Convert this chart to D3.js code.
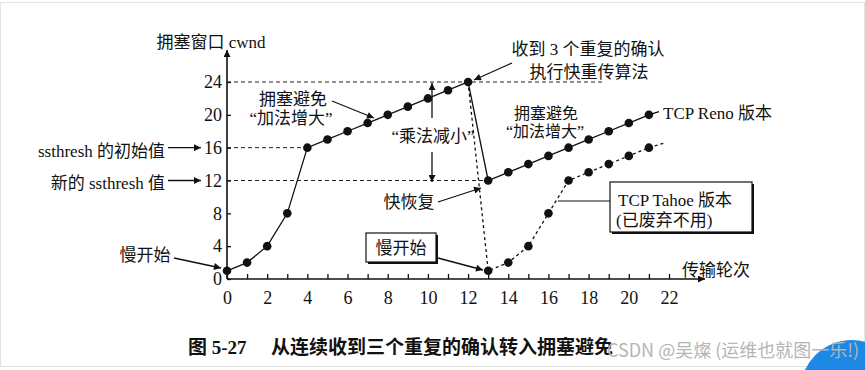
<!DOCTYPE html>
<html>
<head>
<meta charset="utf-8">
<script src="https://cdn.jsdelivr.net/npm/d3@7"></script>
<style>
body { margin: 0; background: #fff; }
text { font-family: "Liberation Serif", "Noto Sans CJK SC", serif; fill: #111; }
</style>
</head>
<body>
<svg width="865" height="370"></svg>
<script>
// TCP Reno: slow start, congestion avoidance, then fast recovery after 3 dup acks
var renoX = [0,1,2,3,4,5,6,7,8,9,10,11,12,13,14,15,16,17,18,19,20,21];
var renoY = [1,2,4,8,16,17,18,19,20,21,22,23,24,12,13,14,15,16,17,18,19,20];
// TCP Tahoe: back to slow start at round 13
var tahoeX = [13,14,15,16,17,18,19,20,21];
var tahoeY = [1,2,4,8,12,13,14,15,16];
var xTicks = [0,1,2,3,4,5,6,7,8,9,10,11,12,13,14,15,16,17,18,19,20,21,22];
var yTicks = [0,4,8,12,16,20,24];
var thresholds = [16, 12];

var svg = d3.select("svg");
var x = d3.scaleLinear().domain([0, 22]).range([227, 669]);
var y = d3.scaleLinear().domain([0, 24]).range([279, 82]);

// frame
svg.append("rect").attr("x", 0.5).attr("y", 2.5).attr("width", 864).attr("height", 364)
   .attr("fill", "none").attr("stroke", "#e2e2e2");

var defs = svg.append("defs");
defs.append("marker").attr("id", "arr").attr("viewBox", "0 0 10 10")
    .attr("refX", 10).attr("refY", 5).attr("markerWidth", 9).attr("markerHeight", 7)
    .attr("markerUnits", "userSpaceOnUse").attr("orient", "auto")
    .append("path").attr("d", "M0,0 L10,5 L0,10 z").attr("fill", "#111");

function arrow(x1, y1, x2, y2, w){
    return svg.append("line").attr("x1", x1).attr("y1", y1).attr("x2", x2).attr("y2", y2)
        .attr("stroke", "#111").attr("stroke-width", w || 1.3).attr("marker-end", "url(#arr)");
}
function label(t, px, py, size, anchor){
    return svg.append("text").attr("x", px).attr("y", py).attr("font-size", size || 17)
        .attr("text-anchor", anchor || "middle").text(t);
}

// dashed guide lines
var dash = "4,3";
svg.append("line").attr("x1", x(0)).attr("x2", 602).attr("y1", y(24)).attr("y2", y(24))
   .attr("stroke", "#222").attr("stroke-dasharray", dash);
svg.append("line").attr("x1", x(0)).attr("x2", x(4)).attr("y1", y(16)).attr("y2", y(16))
   .attr("stroke", "#222").attr("stroke-dasharray", dash);
svg.append("line").attr("x1", x(0)).attr("x2", x(13)).attr("y1", y(12)).attr("y2", y(12))
   .attr("stroke", "#222").attr("stroke-dasharray", dash);

// axes
var xAxis = d3.axisBottom(x).tickValues(xTicks).tickSizeInner(-5).tickSizeOuter(0).tickPadding(12)
    .tickFormat(function(d){ return d % 2 ? "" : d; });
var gx = svg.append("g").attr("transform", "translate(0," + y(0) + ")").call(xAxis);
gx.select(".domain").remove();
gx.selectAll("line").attr("stroke", "#111").attr("stroke-width", 1.3);
gx.selectAll("text").attr("font-size", 18).attr("font-family", "Liberation Serif").attr("fill", "#111");

var yAxis = d3.axisLeft(y).tickValues(yTicks).tickSizeInner(-4).tickSizeOuter(0).tickPadding(5);
var gy = svg.append("g").attr("transform", "translate(" + x(0) + ",0)").call(yAxis);
gy.select(".domain").remove();
gy.selectAll("line").attr("stroke", "#111").attr("stroke-width", 1.3);
gy.selectAll("text").attr("font-size", 18).attr("font-family", "Liberation Serif").attr("fill", "#111");

arrow(x(0), y(0), 705, y(0), 1.6);
arrow(x(0), y(0), x(0), 50, 1.6);
label("拥塞窗口 cwnd", 211, 48, 17);
label("传输轮次", 716, 276, 17);

// Reno curve
var line = d3.line().x(function(d){ return x(d[0]); }).y(function(d){ return y(d[1]); });
var reno = renoX.map(function(v, i){ return [v, renoY[i]]; });
var tahoe = [reno[12]].concat(tahoeX.map(function(v, i){ return [v, tahoeY[i]]; }));
svg.append("path").attr("d", line(reno)).attr("fill", "none").attr("stroke", "#111").attr("stroke-width", 1.3);
svg.append("path").attr("d", line([reno[21], [21.5, 20.4]])).attr("fill", "none").attr("stroke", "#111").attr("stroke-width", 1.3);
svg.append("path").attr("d", line(tahoe)).attr("fill", "none").attr("stroke", "#111")
   .attr("stroke-width", 1.3).attr("stroke-dasharray", "3,3");
svg.append("path").attr("d", line([tahoe[9], [21.8, 16.6]])).attr("fill", "none").attr("stroke", "#111")
   .attr("stroke-width", 1.3).attr("stroke-dasharray", "3,3");

svg.selectAll(".reno-pt").data(reno).enter().append("circle").attr("class", "reno-pt")
   .attr("cx", function(d){ return x(d[0]); }).attr("cy", function(d){ return y(d[1]); })
   .attr("r", 4.3).attr("fill", "#111");
svg.selectAll(".tahoe-pt").data(tahoe.slice(1)).enter().append("circle").attr("class", "tahoe-pt")
   .attr("cx", function(d){ return x(d[0]); }).attr("cy", function(d){ return y(d[1]); })
   .attr("r", 4.3).attr("fill", "#111");

// left side labels
label("ssthresh 的初始值", 165, 157, 17, "end");
label("新的 ssthresh 值", 165, 189, 17, "end");
arrow(168, y(thresholds[0]), 201, y(thresholds[0]));
arrow(168, y(thresholds[1]), 201, y(thresholds[1]));
label("慢开始", 145, 261, 17);
arrow(174, 258, 221, 268);

// annotations
label("拥塞避免", 293, 105, 17);
label("\u201c加法增大\u201d", 291, 124, 17);
arrow(332, 101, 374, 118);

label("收到 3 个重复的确认", 588, 55, 17);
label("执行快重传算法", 589, 78, 17);
arrow(512, 63, 474, 80);

label("\u201c乘法减小\u201d", 433, 142, 17);
arrow(432, 118, 432, 83);
arrow(432, 152, 432, 182);

label("拥塞避免", 546, 119, 16);
label("\u201c加法增大\u201d", 545, 137, 16);

label("快恢复", 409, 208, 17);
arrow(438, 202, 481, 188);

svg.append("rect").attr("x", 368).attr("y", 235).attr("width", 70).attr("height", 29).attr("fill", "#111");
svg.append("rect").attr("x", 366).attr("y", 233).attr("width", 70).attr("height", 29)
   .attr("fill", "#fff").attr("stroke", "#111").attr("stroke-width", 1.2);
label("慢开始", 401, 254, 17);
arrow(438, 258, 483, 270);

label("TCP Reno 版本", 663, 119, 17, "start");

svg.append("line").attr("x1", 558).attr("y1", 201).attr("x2", 610).attr("y2", 201)
   .attr("stroke", "#111").attr("stroke-width", 1.2);
svg.append("rect").attr("x", 612).attr("y", 184).attr("width", 142).attr("height", 50).attr("fill", "#111");
svg.append("rect").attr("x", 610).attr("y", 182).attr("width", 142).attr("height", 50)
   .attr("fill", "#fff").attr("stroke", "#111").attr("stroke-width", 1.2);
label("TCP Tahoe 版本", 618, 206, 17, "start");
label("(已废弃不用)", 616, 226, 17, "start");

// caption
label("图 5-27", 188, 354, 19, "start").attr("font-weight", "bold");
label("从连续收到三个重复的确认转入拥塞避免", 271, 354, 19, "start").attr("font-weight", "bold");

// watermark
svg.append("circle").attr("cx", 852).attr("cy", 392).attr("r", 52).attr("fill", "#1e88e5");
svg.append("text").attr("x", 607).attr("y", 357).attr("font-size", 18)
   .style("font-family", "'Noto Sans CJK SC', sans-serif").style("fill", "#b5b5b5")
   .text("CSDN @吴燦 (运维也就图一乐!)");
</script>
</body>
</html>
